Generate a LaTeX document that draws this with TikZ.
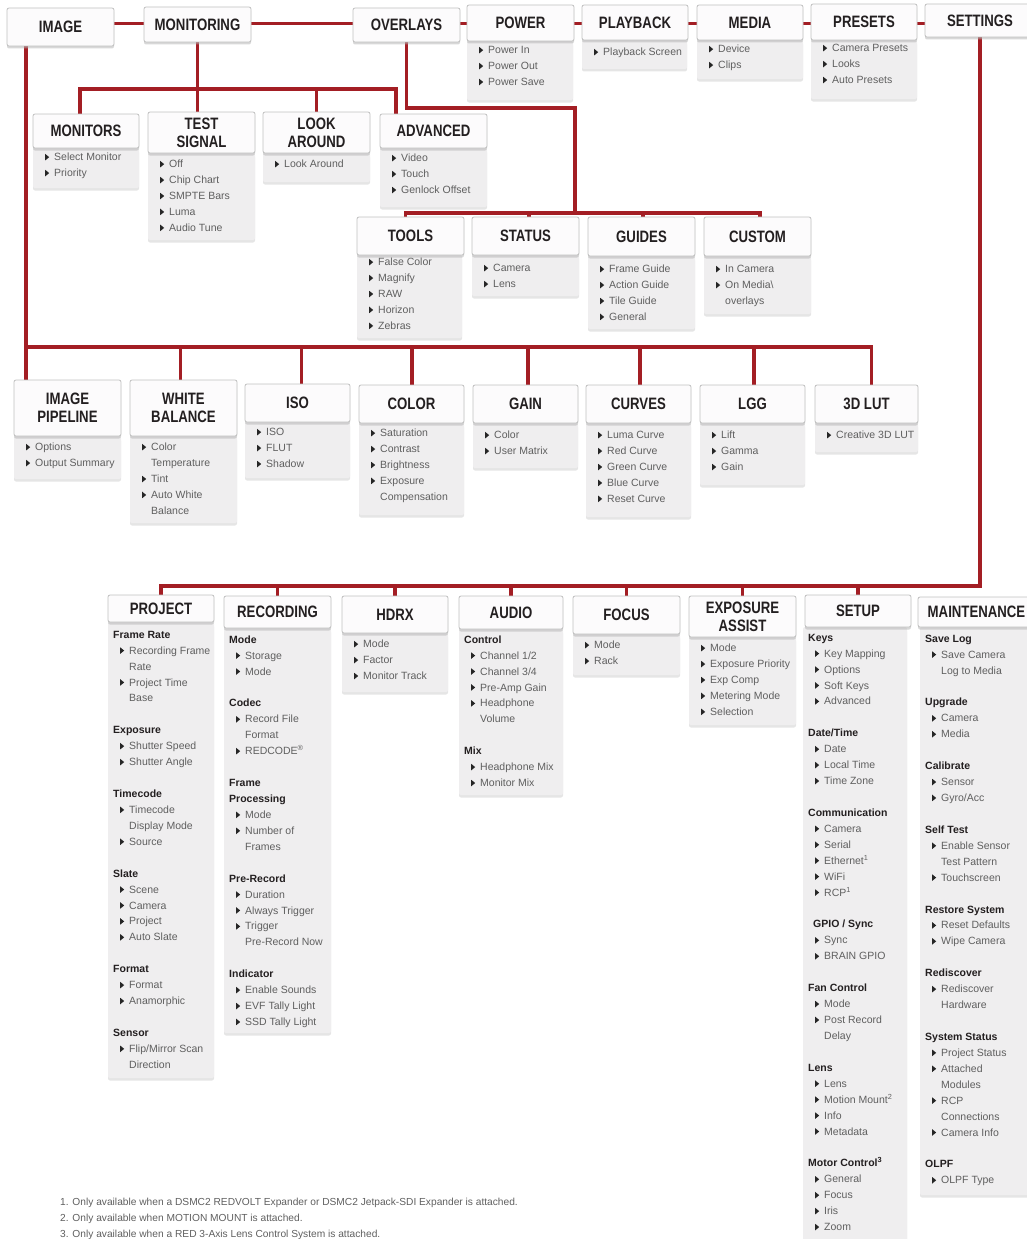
\documentclass[tikz,border=0pt]{standalone}
\usepackage{fontspec}
\setmainfont{Liberation Sans}
\newfontfamily\headfont{Liberation Sans}[FakeStretch=0.8]
\usetikzlibrary{backgrounds, shadows}

\definecolor{menured}{RGB}{163,30,36}
\definecolor{headline}{RGB}{192,192,192}
\definecolor{headfill}{RGB}{252,251,252}
\definecolor{listfill}{RGB}{239,238,239}
\definecolor{itemgray}{RGB}{95,95,95}
\definecolor{headtext}{RGB}{35,31,32}

% viñeta triangular de cada opción
\newcommand{\bul}{\tikz[baseline=-0.3pt]\fill[black!85] (0pt,0pt) -- (0pt,6.5pt) -- (4pt,3.25pt) -- cycle;}
\newcommand{\menuItem}[1]{\strut\hspace*{7pt}\bul\hspace{5pt}#1}
\newcommand{\menuCont}[1]{\strut\hspace*{16pt}#1}
\newcommand{\menuCat}[1]{\strut{\color{headtext}\bfseries #1}}
\newcommand{\gap}{\\[15.93pt]}

\newcommand{\menuHead}[6]{
    % Caja de título: {Nombre}{Izq}{Arriba}{Der}{Abajo}{Texto}
    \node[head box, minimum width=#4-#2, minimum height=#5-#3] (#1) at ({(#2+#4)/2}, {(#3+#5)/2}) {#6};
}
\newcommand{\menuList}[7]{
    % Panel de opciones: {Nombre}{Izq}{Arriba}{Der}{Abajo}{Línea base}{Opciones}
    \fill[list box] (#2, #3) rectangle (#4, #5);
    \node[list text] (#1) at ({#2+5}, {#6-11.15}) {#7};
}

\begin{document}
\begin{tikzpicture}[
    x=1pt, y=-1pt,
    head box/.style={draw=headline, fill=headfill, line width=0.8pt, rounded corners=2pt, inner sep=0pt,
        align=center, text=headtext, font={\headfont\bfseries\fontsize{16.5}{18}\selectfont},
        drop shadow={shadow xshift=0pt, shadow yshift=-2.5pt, fill=black!30, opacity=0.5}},
    list box/.style={fill=listfill, rounded corners=2pt,
        drop shadow={shadow xshift=0pt, shadow yshift=-2.5pt, fill=black!20, opacity=0.5}},
    list text/.style={anchor=north west, align=left, inner sep=0pt, text=itemgray,
        font=\fontsize{10.5}{15.93}\selectfont},
    note text/.style={anchor=base west, inner sep=0pt, text=itemgray, font=\fontsize{10.2}{12}\selectfont},
    bus/.style={line width=3.5pt, menured}
]
\useasboundingbox (0,0) rectangle (1027,1239);

% 1. Fila superior
\menuHead{image}{7}{8}{114}{46}{IMAGE}
\menuHead{monitoring}{144}{7}{251}{42}{MONITORING}
\menuHead{overlays}{353}{8}{460}{42}{OVERLAYS}
\menuList{power-list}{467}{41}{573}{100}{53.5}{\menuItem{Power In}\\ \menuItem{Power Out}\\ \menuItem{Power Save}}
\menuHead{power}{467}{5}{574}{41}{POWER}
\menuList{playback-list}{582}{40}{687}{69}{55.5}{\menuItem{Playback Screen}}
\menuHead{playback}{582}{5}{688}{40}{PLAYBACK}
\menuList{media-list}{697}{40}{803}{79}{52.5}{\menuItem{Device}\\ \menuItem{Clips}}
\menuHead{media}{697}{5}{803}{40}{MEDIA}
\menuList{presets-list}{811}{40}{917}{99}{51.5}{\menuItem{Camera Presets}\\ \menuItem{Looks}\\ \menuItem{Auto Presets}}
\menuHead{presets}{811}{4}{917}{40}{PRESETS}
\menuHead{settings}{925}{4}{1035}{37}{SETTINGS}

% 2. Submenús de MONITORING
\menuList{monitors-list}{33}{148}{139}{188}{160.5}{\menuItem{Select Monitor}\\ \menuItem{Priority}}
\menuHead{monitors}{33}{114}{139}{148}{MONITORS}
\menuList{testsignal-list}{148}{153}{255}{240}{167.5}{\menuItem{Off}\\ \menuItem{Chip Chart}\\ \menuItem{SMPTE Bars}\\ \menuItem{Luma}\\ \menuItem{Audio Tune}}
\menuHead{testsignal}{148}{112}{255}{153}{TEST\\SIGNAL}
\menuList{lookaround-list}{263}{153}{370}{182}{167.5}{\menuItem{Look Around}}
\menuHead{lookaround}{263}{112}{370}{153}{LOOK\\AROUND}
\menuList{advanced-list}{380}{148}{487}{207}{161.5}{\menuItem{Video}\\ \menuItem{Touch}\\ \menuItem{Genlock Offset}}
\menuHead{advanced}{380}{114}{487}{148}{ADVANCED}

% 3. Submenús de OVERLAYS
\menuList{tools-list}{357}{255}{462}{338}{265.5}{\menuItem{False Color}\\ \menuItem{Magnify}\\ \menuItem{RAW}\\ \menuItem{Horizon}\\ \menuItem{Zebras}}
\menuHead{tools}{357}{217}{464}{255}{TOOLS}
\menuList{status-list}{472}{255}{579}{296}{271.5}{\menuItem{Camera}\\ \menuItem{Lens}}
\menuHead{status}{472}{217}{579}{255}{STATUS}
\menuList{guides-list}{588}{256}{695}{329}{272.5}{\menuItem{Frame Guide}\\ \menuItem{Action Guide}\\ \menuItem{Tile Guide}\\ \menuItem{General}}
\menuHead{guides}{588}{217}{695}{256}{GUIDES}
\menuList{custom-list}{704}{256}{811}{314}{272.5}{\menuItem{In Camera}\\ \menuItem{On Media\textbackslash}\\ \menuCont{overlays}}
\menuHead{custom}{704}{217}{811}{256}{CUSTOM}

% 4. Submenús de IMAGE
\menuList{pipeline-list}{14}{436}{121}{479}{450.5}{\menuItem{Options}\\ \menuItem{Output Summary}}
\menuHead{pipeline}{14}{380}{121}{436}{IMAGE\\PIPELINE}
\menuList{whitebal-list}{130}{436}{237}{523}{450.5}{\menuItem{Color}\\ \menuCont{Temperature}\\ \menuItem{Tint}\\ \menuItem{Auto White}\\ \menuCont{Balance}}
\menuHead{whitebal}{130}{380}{237}{436}{WHITE\\BALANCE}
\menuList{iso-list}{245}{422}{350}{478}{435.5}{\menuItem{ISO}\\ \menuItem{FLUT}\\ \menuItem{Shadow}}
\menuHead{iso}{245}{384}{350}{422}{ISO}
\menuList{color-list}{359}{423}{464}{515}{436.5}{\menuItem{Saturation}\\ \menuItem{Contrast}\\ \menuItem{Brightness}\\ \menuItem{Exposure}\\ \menuCont{Compensation}}
\menuHead{color}{359}{385}{464}{423}{COLOR}
\menuList{gain-list}{473}{423}{578}{468}{438.5}{\menuItem{Color}\\ \menuItem{User Matrix}}
\menuHead{gain}{473}{385}{578}{423}{GAIN}
\menuList{curves-list}{586}{423}{691}{517}{438.5}{\menuItem{Luma Curve}\\ \menuItem{Red Curve}\\ \menuItem{Green Curve}\\ \menuItem{Blue Curve}\\ \menuItem{Reset Curve}}
\menuHead{curves}{586}{385}{691}{423}{CURVES}
\menuList{lgg-list}{700}{423}{805}{485}{438.5}{\menuItem{Lift}\\ \menuItem{Gamma}\\ \menuItem{Gain}}
\menuHead{lgg}{700}{385}{805}{423}{LGG}
\menuList{lut-list}{815}{423}{918}{452}{438.5}{\menuItem{Creative 3D LUT}}
\menuHead{lut}{815}{385}{918}{423}{3D LUT}

% 5. Submenús de SETTINGS
\menuList{project-list}{108}{622}{214}{1078}{638}{\menuCat{Frame Rate}\\ \menuItem{Recording Frame}\\ \menuCont{Rate}\\ \menuItem{Project Time}\\ \menuCont{Base}\gap
    \menuCat{Exposure}\\ \menuItem{Shutter Speed}\\ \menuItem{Shutter Angle}\gap
    \menuCat{Timecode}\\ \menuItem{Timecode}\\ \menuCont{Display Mode}\\ \menuItem{Source}\gap
    \menuCat{Slate}\\ \menuItem{Scene}\\ \menuItem{Camera}\\ \menuItem{Project}\\ \menuItem{Auto Slate}\gap
    \menuCat{Format}\\ \menuItem{Format}\\ \menuItem{Anamorphic}\gap
    \menuCat{Sensor}\\ \menuItem{Flip/Mirror Scan}\\ \menuCont{Direction}}
\menuHead{project}{108}{595}{214}{622}{PROJECT}
\menuList{recording-list}{224}{628}{331}{1033}{643}{\menuCat{Mode}\\ \menuItem{Storage}\\ \menuItem{Mode}\gap
    \menuCat{Codec}\\ \menuItem{Record File}\\ \menuCont{Format}\\ \menuItem{REDCODE\textsuperscript{\textregistered}}\gap
    \menuCat{Frame}\\ \menuCat{Processing}\\ \menuItem{Mode}\\ \menuItem{Number of}\\ \menuCont{Frames}\gap
    \menuCat{Pre-Record}\\ \menuItem{Duration}\\ \menuItem{Always Trigger}\\ \menuItem{Trigger}\\ \menuCont{Pre-Record Now}\gap
    \menuCat{Indicator}\\ \menuItem{Enable Sounds}\\ \menuItem{EVF Tally Light}\\ \menuItem{SSD Tally Light}}
\menuHead{recording}{224}{596}{331}{628}{RECORDING}
\menuList{hdrx-list}{342}{633}{448}{692}{647.5}{\menuItem{Mode}\\ \menuItem{Factor}\\ \menuItem{Monitor Track}}
\menuHead{hdrx}{342}{596}{448}{633}{HDRX}
\menuList{audio-list}{459}{629}{563}{795}{643}{\menuCat{Control}\\ \menuItem{Channel 1/2}\\ \menuItem{Channel 3/4}\\ \menuItem{Pre-Amp Gain}\\ \menuItem{Headphone}\\ \menuCont{Volume}\gap
    \menuCat{Mix}\\ \menuItem{Headphone Mix}\\ \menuItem{Monitor Mix}}
\menuHead{audio}{459}{596}{563}{629}{AUDIO}
\menuList{focus-list}{573}{634}{680}{675}{648.5}{\menuItem{Mode}\\ \menuItem{Rack}}
\menuHead{focus}{573}{596}{680}{634}{FOCUS}
\menuList{exposure-list}{689}{637}{796}{725}{651.5}{\menuItem{Mode}\\ \menuItem{Exposure Priority}\\ \menuItem{Exp Comp}\\ \menuItem{Metering Mode}\\ \menuItem{Selection}}
\menuHead{exposure}{689}{596}{796}{637}{EXPOSURE\\ASSIST}
\menuList{setup-list}{803}{627}{907}{1250}{641}{\menuCat{Keys}\\ \menuItem{Key Mapping}\\ \menuItem{Options}\\ \menuItem{Soft Keys}\\ \menuItem{Advanced}\gap
    \menuCat{Date/Time}\\ \menuItem{Date}\\ \menuItem{Local Time}\\ \menuItem{Time Zone}\gap
    \menuCat{Communication}\\ \menuItem{Camera}\\ \menuItem{Serial}\\ \menuItem{Ethernet\textsuperscript{1}}\\ \menuItem{WiFi}\\ \menuItem{RCP\textsuperscript{1}}\gap
    \hspace*{5pt}\menuCat{GPIO / Sync}\\ \menuItem{Sync}\\ \menuItem{BRAIN GPIO}\gap
    \menuCat{Fan Control}\\ \menuItem{Mode}\\ \menuItem{Post Record}\\ \menuCont{Delay}\gap
    \menuCat{Lens}\\ \menuItem{Lens}\\ \menuItem{Motion Mount\textsuperscript{2}}\\ \menuItem{Info}\\ \menuItem{Metadata}\gap
    \menuCat{Motor Control\textsuperscript{3}}\\ \menuItem{General}\\ \menuItem{Focus}\\ \menuItem{Iris}\\ \menuItem{Zoom}}
\menuHead{setup}{805}{595}{911}{627}{SETUP}
\menuList{maint-list}{920}{627}{1035}{1195}{642}{\menuCat{Save Log}\\ \menuItem{Save Camera}\\ \menuCont{Log to Media}\gap
    \menuCat{Upgrade}\\ \menuItem{Camera}\\ \menuItem{Media}\gap
    \menuCat{Calibrate}\\ \menuItem{Sensor}\\ \menuItem{Gyro/Acc}\gap
    \menuCat{Self Test}\\ \menuItem{Enable Sensor}\\ \menuCont{Test Pattern}\\ \menuItem{Touchscreen}\gap
    \menuCat{Restore System}\\ \menuItem{Reset Defaults}\\ \menuItem{Wipe Camera}\gap
    \menuCat{Rediscover}\\ \menuItem{Rediscover}\\ \menuCont{Hardware}\gap
    \menuCat{System Status}\\ \menuItem{Project Status}\\ \menuItem{Attached}\\ \menuCont{Modules}\\ \menuItem{RCP}\\ \menuCont{Connections}\\ \menuItem{Camera Info}\gap
    \menuCat{OLPF}\\ \menuItem{OLPF Type}}
\menuHead{maint}{918}{597}{1035}{627}{MAINTENANCE}

% 6. Notas al pie
\node[note text] (note1) at (60, 1205.5) {1. Only available when a DSMC2 REDVOLT Expander or DSMC2 Jetpack-SDI Expander is attached.};
\node[note text] (note2) at (60, 1221.5) {2. Only available when MOTION MOUNT is attached.};
\node[note text] (note3) at (60, 1237.5) {3. Only available when a RED 3-Axis Lens Control System is attached.};

% 7. Conexiones (detrás de las cajas)
\coordinate (topbar) at (0, 23.5);
\coordinate (monbar) at (0, 89);
\coordinate (ovcorner) at (575, 108);
\coordinate (toolbar) at (0, 213);
\coordinate (imgbar) at (0, 347);
\coordinate (setbar) at (0, 586);
\begin{pgfonlayer}{background}
    \draw[bus] (image.center |- topbar) -- (settings.center |- topbar);
    % MONITORING
    \draw[bus] (monitoring.south) -- (monitoring.south |- testsignal.north);
    \draw[bus] ([xshift=-6pt]monitors.north) -- ([xshift=-6pt]monitors.north |- monbar) -| ([xshift=-37.5pt]advanced.north);
    \draw[bus] (lookaround.north) -- (lookaround.north |- monbar);
    % OVERLAYS
    \draw[bus] (overlays.south) |- (ovcorner) -- (ovcorner |- toolbar);
    \draw[bus] ([xshift=-5pt]tools.north) -- ([xshift=-5pt]tools.north |- toolbar) -| ([xshift=2.5pt]custom.north);
    \foreach \n/\dx in {status/3.5, guides/1.5} { \draw[bus] ([xshift=\dx pt]\n.north) -- ([xshift=\dx pt]\n.north |- toolbar); }
    % IMAGE
    \draw[bus] ([xshift=-34.5pt]image.south) -- ([xshift=-34.5pt]image.south |- pipeline.north);
    \draw[bus] ([xshift=-34.5pt]image.south |- imgbar) -| ([xshift=5pt]lut.north);
    \foreach \n/\dx in {whitebal/-3, iso/4, color/0.5, gain/2.5, curves/1.5, lgg/1.5} { \draw[bus] ([xshift=\dx pt]\n.north) -- ([xshift=\dx pt]\n.north |- imgbar); }
    % SETTINGS
    \draw[bus] (settings.south) |- (project.north |- setbar) -- (project.north);
    \foreach \n in {recording, hdrx, audio, focus, exposure, setup} { \draw[bus] (\n.north) -- (\n.north |- setbar); }
\end{pgfonlayer}

\end{tikzpicture}
\end{document}
